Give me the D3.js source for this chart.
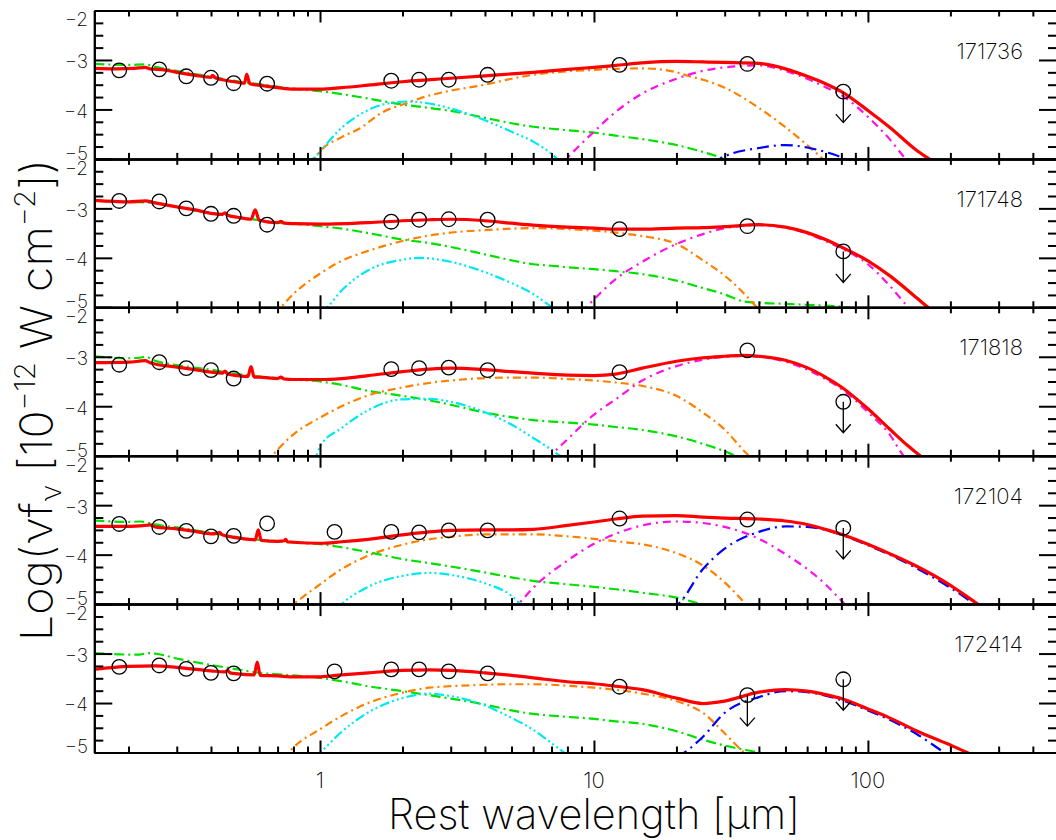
<!DOCTYPE html>
<html><head><meta charset="utf-8">
<script src="https://cdn.jsdelivr.net/npm/d3@7"></script>
<style>
body{margin:0;background:#fff;}
svg{display:block;background:#fff;}
text{font-family:'Inter','Lato','DejaVu Sans',sans-serif;font-weight:200;fill:#000;}
</style></head><body>
<svg id="chart" width="1056" height="840"></svg>
<script>
// ---------------- DATA ----------------
const panelNames = ['171736','171748','171818','172104','172414'];
const bandWavelengths = [0.185,0.259,0.325,0.400,0.484,0.641,1.13,1.82,2.30,2.95,4.09,12.4,36.3,81.3];

const obs_171736 = [-3.21,-3.19,-3.33,-3.36,-3.47,-3.48,null,-3.42,-3.40,-3.40,-3.30,-3.10,-3.08,-3.64];
const obs_171748 = [-2.85,-2.86,-3.00,-3.11,-3.15,-3.33,null,-3.27,-3.23,-3.22,-3.23,-3.42,-3.36,-3.87];
const obs_171818 = [-3.16,-3.11,-3.23,-3.27,-3.44,null,null,-3.25,-3.23,-3.22,-3.27,-3.31,-2.87,-3.91];
const obs_172104 = [-3.38,-3.44,-3.52,-3.63,-3.62,-3.37,-3.54,-3.54,-3.55,-3.51,-3.51,-3.27,-3.29,-3.46];
const obs_172414 = [-3.27,-3.24,-3.31,-3.39,-3.40,null,-3.36,-3.32,-3.32,-3.36,-3.40,-3.67,-3.84,-3.52];

const upper_171736 = [81.3];
const upper_171748 = [81.3];
const upper_171818 = [81.3];
const upper_172104 = [81.3];
const upper_172414 = [36.3, 81.3];

// total model (red)
const total_171736 = [[0.15,-3.17],[0.18,-3.18],[0.21,-3.17],[0.23,-3.15],[0.24,-3.18],[0.27,-3.20],[0.3,-3.25],[0.35,-3.31],[0.4,-3.35],[0.405,-3.31],[0.415,-3.36],[0.45,-3.41],[0.5,-3.45],[0.53,-3.47],[0.54,-3.29],[0.555,-3.48],[0.6,-3.51],[0.7,-3.56],[0.8,-3.59],[1,-3.59],[1.2,-3.56],[1.5,-3.51],[2,-3.44],[3,-3.37],[4,-3.32],[6,-3.25],[8,-3.19],[10,-3.15],[12,-3.11],[15,-3.06],[20,-3.03],[25,-3.04],[30,-3.05],[40,-3.07],[50,-3.18],[60,-3.33],[70,-3.48],[80,-3.64],[100,-4.02],[120,-4.36],[150,-4.82],[170,-5.03],[200,-5.3]];
const total_171748 = [[0.15,-2.84],[0.2,-2.87],[0.23,-2.85],[0.25,-2.89],[0.3,-2.97],[0.35,-3.03],[0.4,-3.10],[0.44,-3.12],[0.45,-3.09],[0.46,-3.14],[0.5,-3.18],[0.56,-3.22],[0.58,-3.03],[0.6,-3.24],[0.7,-3.29],[0.72,-3.26],[0.74,-3.30],[0.8,-3.31],[1,-3.32],[1.5,-3.29],[2,-3.25],[2.5,-3.23],[3,-3.22],[4,-3.25],[5,-3.30],[6,-3.34],[8,-3.38],[10,-3.40],[12,-3.42],[15,-3.42],[20,-3.40],[25,-3.39],[30,-3.37],[40,-3.33],[50,-3.38],[60,-3.49],[70,-3.63],[80,-3.78],[100,-4.06],[120,-4.36],[150,-4.80],[170,-5.05],[190,-5.25]];
const total_171818 = [[0.15,-3.12],[0.2,-3.11],[0.23,-3.08],[0.24,-3.12],[0.3,-3.21],[0.35,-3.26],[0.4,-3.31],[0.44,-3.33],[0.45,-3.29],[0.46,-3.35],[0.5,-3.38],[0.545,-3.40],[0.56,-3.20],[0.575,-3.41],[0.6,-3.41],[0.7,-3.44],[0.72,-3.41],[0.74,-3.45],[0.8,-3.46],[1,-3.46],[1.2,-3.44],[1.5,-3.38],[2,-3.30],[2.5,-3.25],[3,-3.23],[4,-3.26],[5,-3.30],[6,-3.33],[8,-3.37],[10,-3.38],[12,-3.35],[15,-3.23],[20,-3.09],[25,-3.02],[30,-2.99],[35,-2.97],[40,-2.99],[50,-3.07],[60,-3.22],[70,-3.41],[80,-3.61],[100,-4.05],[120,-4.46],[140,-4.80],[155,-5.0],[170,-5.2]];
const total_172104 = [[0.15,-3.43],[0.2,-3.43],[0.23,-3.41],[0.24,-3.40],[0.25,-3.44],[0.3,-3.48],[0.35,-3.53],[0.4,-3.58],[0.42,-3.57],[0.43,-3.55],[0.44,-3.60],[0.5,-3.66],[0.58,-3.70],[0.595,-3.50],[0.61,-3.71],[0.7,-3.73],[0.74,-3.72],[0.75,-3.69],[0.76,-3.74],[0.8,-3.75],[1,-3.77],[1.2,-3.74],[1.5,-3.69],[2,-3.60],[2.5,-3.54],[3,-3.51],[4,-3.50],[5,-3.50],[6,-3.49],[8,-3.41],[10,-3.34],[12,-3.28],[15,-3.22],[20,-3.21],[25,-3.24],[30,-3.26],[40,-3.28],[50,-3.32],[60,-3.39],[70,-3.49],[80,-3.59],[100,-3.79],[120,-3.98],[150,-4.23],[200,-4.62],[250,-4.99],[270,-5.12]];
const total_172414 = [[0.15,-3.32],[0.2,-3.26],[0.25,-3.25],[0.3,-3.28],[0.4,-3.35],[0.45,-3.37],[0.46,-3.34],[0.47,-3.39],[0.5,-3.41],[0.575,-3.43],[0.59,-3.17],[0.605,-3.44],[0.7,-3.45],[0.8,-3.47],[1,-3.47],[1.2,-3.43],[1.5,-3.39],[2,-3.34],[2.5,-3.33],[3,-3.34],[4,-3.39],[5,-3.44],[6,-3.49],[8,-3.57],[10,-3.61],[12,-3.66],[15,-3.73],[20,-3.90],[25,-4.01],[30,-3.96],[40,-3.78],[50,-3.73],[60,-3.76],[70,-3.83],[80,-3.91],[100,-4.12],[120,-4.30],[150,-4.56],[200,-4.85],[230,-5.0],[260,-5.15]];

// stellar component (green)
const stellar_171736 = [[0.15,-3.08],[0.2,-3.10],[0.23,-3.09],[0.25,-3.14],[0.3,-3.22],[0.4,-3.34],[0.5,-3.43],[0.6,-3.49],[0.7,-3.54],[0.8,-3.58],[1,-3.63],[1.2,-3.69],[1.5,-3.78],[2,-3.90],[2.5,-3.97],[3,-4.03],[4,-4.17],[5,-4.28],[6,-4.35],[7,-4.39],[8,-4.42],[10,-4.47],[12,-4.53],[15,-4.60],[20,-4.72],[25,-4.86],[30,-5.0],[35,-5.15]];
const stellar_171748 = [[0.15,-2.84],[0.2,-2.87],[0.25,-2.89],[0.3,-2.97],[0.4,-3.10],[0.5,-3.18],[0.6,-3.24],[0.7,-3.29],[0.8,-3.31],[1,-3.36],[1.2,-3.41],[1.5,-3.50],[2,-3.63],[2.5,-3.70],[3,-3.78],[4,-3.93],[5,-4.05],[6,-4.13],[7,-4.16],[8,-4.19],[10,-4.23],[12,-4.27],[15,-4.33],[20,-4.46],[25,-4.61],[30,-4.74],[35,-4.88],[40,-4.91],[50,-4.93],[60,-4.95],[80,-4.99],[90,-5.03]];
const stellar_171818 = [[0.15,-2.99],[0.2,-3.03],[0.22,-3.02],[0.23,-3.00],[0.25,-3.08],[0.3,-3.17],[0.4,-3.26],[0.5,-3.35],[0.6,-3.40],[0.7,-3.43],[0.8,-3.46],[1,-3.50],[1.2,-3.57],[1.5,-3.69],[2,-3.79],[2.5,-3.88],[3,-3.97],[4,-4.13],[5,-4.22],[6,-4.28],[8,-4.33],[10,-4.37],[12,-4.42],[15,-4.48],[20,-4.61],[25,-4.76],[30,-4.91],[35,-5.08]];
const stellar_172104 = [[0.15,-3.31],[0.2,-3.34],[0.22,-3.33],[0.25,-3.39],[0.3,-3.45],[0.4,-3.56],[0.5,-3.65],[0.6,-3.70],[0.7,-3.73],[0.8,-3.76],[1,-3.79],[1.2,-3.85],[1.5,-3.95],[2,-4.09],[2.5,-4.17],[3,-4.24],[4,-4.36],[5,-4.46],[6,-4.53],[8,-4.60],[10,-4.65],[12,-4.70],[15,-4.77],[20,-4.87],[25,-5.02],[28,-5.12]];
const stellar_172414 = [[0.15,-2.99],[0.2,-3.02],[0.22,-3.02],[0.235,-2.99],[0.25,-3.0],[0.3,-3.10],[0.4,-3.23],[0.5,-3.32],[0.6,-3.39],[0.7,-3.42],[0.8,-3.44],[1,-3.49],[1.2,-3.56],[1.5,-3.66],[2,-3.76],[2.5,-3.84],[3,-3.91],[4,-4.03],[5,-4.15],[6,-4.22],[8,-4.28],[10,-4.32],[12,-4.37],[15,-4.42],[20,-4.57],[25,-4.74],[30,-4.86],[40,-5.0],[45,-5.06]];

// AGN / torus component (orange)
const agn_171736 = [[0.93,-5.1],[1,-4.85],[1.2,-4.56],[1.4,-4.38],[1.7,-4.05],[2,-3.90],[2.5,-3.72],[3,-3.62],[4,-3.50],[5,-3.38],[6,-3.30],[8,-3.23],[10,-3.20],[12,-3.18],[15,-3.17],[18,-3.20],[20,-3.25],[22,-3.32],[25,-3.40],[30,-3.56],[40,-3.97],[50,-4.36],[60,-4.72],[70,-5.05],[75,-5.2]];
const agn_171748 = [[0.68,-5.15],[0.72,-5.0],[0.8,-4.73],[1,-4.32],[1.2,-4.06],[1.5,-3.86],[2,-3.66],[2.5,-3.55],[3,-3.49],[4,-3.44],[5,-3.41],[6,-3.40],[8,-3.42],[10,-3.45],[12,-3.49],[15,-3.56],[20,-3.72],[25,-4.05],[30,-4.36],[35,-4.70],[40,-5.04],[42,-5.15]];
const agn_171818 = [[0.64,-5.15],[0.67,-5.0],[0.7,-4.88],[0.8,-4.57],[1,-4.23],[1.2,-4.0],[1.5,-3.78],[2,-3.62],[2.5,-3.53],[3,-3.48],[4,-3.43],[5,-3.42],[6,-3.42],[8,-3.45],[10,-3.48],[12,-3.52],[15,-3.59],[20,-3.79],[25,-4.13],[30,-4.47],[35,-4.88],[38,-5.08]];
const agn_172104 = [[0.75,-5.12],[0.8,-5.0],[1,-4.60],[1.2,-4.29],[1.5,-4.02],[2,-3.80],[2.5,-3.69],[3,-3.64],[4,-3.59],[5,-3.59],[6,-3.59],[8,-3.63],[10,-3.68],[12,-3.73],[15,-3.79],[20,-3.97],[25,-4.22],[30,-4.56],[35,-4.94],[37,-5.08]];
const agn_172414 = [[0.73,-5.12],[0.77,-5.0],[0.8,-4.90],[1,-4.53],[1.2,-4.26],[1.5,-4.0],[2,-3.79],[2.5,-3.69],[3,-3.66],[4,-3.63],[5,-3.62],[6,-3.62],[8,-3.65],[10,-3.69],[12,-3.73],[15,-3.81],[20,-3.96],[25,-4.20],[30,-4.61],[35,-4.98],[37,-5.08]];

// hot dust (cyan)
const hotDust_171736 = [[0.9,-5.1],[0.95,-4.98],[1.2,-4.37],[1.4,-4.10],[1.7,-3.90],[2.1,-3.84],[2.5,-3.88],[3,-3.98],[4,-4.22],[5,-4.45],[6,-4.65],[7,-4.9],[7.5,-5.05]];
const hotDust_171748 = [[1.0,-5.1],[1.06,-5.0],[1.2,-4.66],[1.5,-4.25],[2,-4.04],[2.3,-4.0],[2.5,-4.01],[3,-4.08],[4,-4.29],[5,-4.51],[6,-4.73],[7,-4.99],[7.5,-5.1]];
const hotDust_171818 = [[0.93,-5.1],[0.97,-5.0],[1,-4.81],[1.2,-4.44],[1.5,-4.08],[2,-3.86],[2.5,-3.85],[3,-3.91],[4,-4.12],[5,-4.37],[6,-4.64],[7,-4.88],[7.5,-5.0],[8,-5.1]];
const hotDust_172104 = [[1.15,-5.1],[1.2,-5.0],[1.5,-4.65],[2,-4.43],[2.5,-4.37],[3,-4.41],[4,-4.58],[5,-4.83],[5.4,-5.0],[5.8,-5.12]];
const hotDust_172414 = [[0.95,-5.1],[1,-5.0],[1.2,-4.58],[1.5,-4.19],[2,-3.90],[2.5,-3.81],[3,-3.86],[4,-4.05],[5,-4.30],[6,-4.54],[7,-4.81],[8,-5.05]];

// warm dust (magenta)
const warmDust_171736 = [[7.5,-5.15],[8,-4.98],[10,-4.45],[12,-4.05],[15,-3.68],[20,-3.38],[25,-3.22],[30,-3.15],[40,-3.11],[50,-3.22],[60,-3.38],[70,-3.55],[80,-3.71],[100,-4.15],[120,-4.6],[140,-5.05],[150,-5.2]];
const warmDust_171748 = [[9,-5.1],[10,-4.84],[12,-4.43],[15,-4.08],[20,-3.72],[25,-3.52],[30,-3.40],[40,-3.34],[50,-3.39],[60,-3.51],[70,-3.66],[80,-3.81],[100,-4.13],[120,-4.56],[140,-4.99],[150,-5.15]];
const warmDust_171818 = [[6.8,-5.1],[7,-5.0],[8,-4.67],[10,-4.17],[12,-3.86],[15,-3.48],[20,-3.19],[25,-3.06],[30,-3.00],[35,-2.98],[40,-3.00],[50,-3.10],[60,-3.26],[70,-3.45],[80,-3.65],[100,-4.12],[120,-4.57],[135,-5.0],[145,-5.15]];
const warmDust_172104 = [[5,-5.15],[5.3,-5.0],[6,-4.67],[8,-4.12],[10,-3.78],[12,-3.58],[15,-3.41],[20,-3.33],[25,-3.36],[30,-3.44],[40,-3.68],[50,-3.99],[60,-4.29],[70,-4.60],[80,-4.93],[85,-5.08]];

// cold dust (blue)
const coldDust_171736 = [[27,-5.1],[30,-4.95],[40,-4.78],[50,-4.72],[60,-4.77],[70,-4.86],[80,-4.97],[85,-5.05]];
const coldDust_172104 = [[19,-5.1],[20.3,-5.0],[25,-4.29],[30,-3.88],[40,-3.54],[50,-3.43],[60,-3.44],[70,-3.50],[80,-3.60],[100,-3.81],[120,-4.00],[150,-4.27],[200,-4.67],[245,-5.0],[260,-5.1]];
const coldDust_172414 = [[20,-5.1],[21.4,-5.0],[25,-4.68],[30,-4.20],[40,-3.88],[50,-3.76],[60,-3.78],[70,-3.85],[80,-3.94],[100,-4.15],[120,-4.34],[150,-4.62],[190,-5.0],[200,-5.08]];

const xTickValues = [1, 10, 100];
const xTickLabels = ['1', '10', '100'];
const yTickValues = [-2, -3, -4, -5];
const yTickLabels = ['\u22122', '\u22123', '\u22124', '\u22125'];

// ---------------- STYLE ----------------
const compStyles = {
  stellar:  {color:'#00e000', width:2.2, dash:'10,4,2,4'},
  agn:      {color:'#ff8000', width:2.2, dash:'8,4,2,4'},
  hotDust:  {color:'#00e8f0', width:2.2, dash:'10,3,2,3,2,3,2,3'},
  warmDust: {color:'#ff10e8', width:2.2, dash:'8,5,2,5'},
  coldDust: {color:'#0000ff', width:2.2, dash:'12,5,2,5'},
  total:    {color:'#ff0000', width:3.2, dash:null}
};

const panels = [
  {name:panelNames[0], obs:obs_171736, upper:upper_171736, comps:{stellar:stellar_171736, agn:agn_171736, hotDust:hotDust_171736, warmDust:warmDust_171736, coldDust:coldDust_171736}, total:total_171736},
  {name:panelNames[1], obs:obs_171748, upper:upper_171748, comps:{stellar:stellar_171748, agn:agn_171748, hotDust:hotDust_171748, warmDust:warmDust_171748}, total:total_171748},
  {name:panelNames[2], obs:obs_171818, upper:upper_171818, comps:{stellar:stellar_171818, agn:agn_171818, hotDust:hotDust_171818, warmDust:warmDust_171818}, total:total_171818},
  {name:panelNames[3], obs:obs_172104, upper:upper_172104, comps:{stellar:stellar_172104, agn:agn_172104, hotDust:hotDust_172104, warmDust:warmDust_172104, coldDust:coldDust_172104}, total:total_172104},
  {name:panelNames[4], obs:obs_172414, upper:upper_172414, comps:{stellar:stellar_172414, agn:agn_172414, hotDust:hotDust_172414, coldDust:coldDust_172414}, total:total_172414}
];

// ---------------- DRAW ----------------
const svg = d3.select('#chart');
const left = 94.3, right = 1057;
const x = d3.scaleLog().domain([0.15, 490]).range([left, right]);
const top0 = 10.5, panelH = 148.4;

const xMinor = [];
[-1,0,1,2].forEach(d => { for (let k=2;k<=9;k++){ const v=k*Math.pow(10,d); if (v>=0.15 && v<=490) xMinor.push(v);} });
const yMinor = d3.range(-5, -1.99, 0.25).filter(v => Math.abs(v - Math.round(v)) > 1e-6);

function styleAxis(g){
  g.selectAll('path.domain').attr('stroke','#000').attr('stroke-width',2);
  g.selectAll('.tick line').attr('stroke','#000').attr('stroke-width',2);
  g.selectAll('.tick text').remove();
}

panels.forEach((p, i) => {
  const top = top0 + i*panelH, bot = top + panelH;
  const y = d3.scaleLinear().domain([-5, -2]).range([bot, top]);
  const g = svg.append('g').attr('class','panel');

  const clipId = 'clip' + i;
  svg.append('defs').append('clipPath').attr('id', clipId)
    .append('rect').attr('x', left).attr('y', top).attr('width', right-left).attr('height', panelH);
  const plot = g.append('g').attr('clip-path', `url(#${clipId})`);

  const line = d3.line().x(d => x(d[0])).y(d => y(d[1])).curve(d3.curveMonotoneX);

  ['stellar','agn','hotDust','warmDust','coldDust'].forEach(k => {
    if (!p.comps[k]) return;
    const s = compStyles[k];
    plot.append('path').datum(p.comps[k]).attr('d', line)
      .attr('fill','none').attr('stroke', s.color).attr('stroke-width', s.width)
      .attr('stroke-dasharray', s.dash).attr('stroke-linejoin','round');
  });
  plot.append('path').datum(p.total).attr('d', line)
    .attr('fill','none').attr('stroke', compStyles.total.color).attr('stroke-width', compStyles.total.width)
    .attr('stroke-linejoin','round');

  // observations
  const pts = bandWavelengths.map((w, j) => ({w, v: p.obs[j], ul: p.upper.includes(w)})).filter(d => d.v !== null);
  g.selectAll('circle.obs').data(pts).enter().append('circle')
    .attr('class','obs').attr('cx', d => x(d.w)).attr('cy', d => y(d.v)).attr('r', 7.3)
    .attr('fill','none').attr('stroke','#000').attr('stroke-width',1.3);
  g.selectAll('path.ul').data(pts.filter(d => d.ul)).enter().append('path')
    .attr('class','ul')
    .attr('d', d => { const cx=x(d.w), cy=y(d.v); return `M${cx},${cy}L${cx},${cy+31}M${cx-7.5},${cy+22.5}L${cx},${cy+31}L${cx+7.5},${cy+22.5}`; })
    .attr('fill','none').attr('stroke','#000').attr('stroke-width',1.3);

  // axes (inward ticks)
  const ax = [];
  ax.push(g.append('g').attr('transform',`translate(0,${bot})`).call(d3.axisBottom(x).tickValues(xTickValues).tickSizeInner(-12).tickSizeOuter(0).tickFormat('')));
  ax.push(g.append('g').attr('transform',`translate(0,${bot})`).call(d3.axisBottom(x).tickValues(xMinor).tickSizeInner(-6).tickSizeOuter(0).tickFormat('')));
  ax.push(g.append('g').attr('transform',`translate(0,${top})`).call(d3.axisTop(x).tickValues(xTickValues).tickSizeInner(-12).tickSizeOuter(0).tickFormat('')));
  ax.push(g.append('g').attr('transform',`translate(0,${top})`).call(d3.axisTop(x).tickValues(xMinor).tickSizeInner(-6).tickSizeOuter(0).tickFormat('')));
  ax.push(g.append('g').attr('transform',`translate(${left},0)`).call(d3.axisLeft(y).tickValues(yTickValues).tickSizeInner(-18).tickSizeOuter(0).tickFormat('')));
  ax.push(g.append('g').attr('transform',`translate(${left},0)`).call(d3.axisLeft(y).tickValues(yMinor).tickSizeInner(-9).tickSizeOuter(0).tickFormat('')));
  ax.push(g.append('g').attr('transform',`translate(${right},0)`).call(d3.axisRight(y).tickValues(yTickValues).tickSizeInner(-18).tickSizeOuter(0).tickFormat('')));
  ax.push(g.append('g').attr('transform',`translate(${right},0)`).call(d3.axisRight(y).tickValues(yMinor).tickSizeInner(-9).tickSizeOuter(0).tickFormat('')));
  ax.forEach(styleAxis);

  // y tick labels
  yTickValues.forEach((v, j) => {
    const off = v === -2 ? 9 : (v === -5 ? -6 : 1.5);
    g.append('text').attr('x', 88).attr('y', y(v) + off).attr('dy','0.36em')
      .attr('text-anchor','end').attr('font-size',19).text(yTickLabels[j]);
  });

  // panel name
  g.append('text').attr('x', 1023).attr('y', top + 48).attr('text-anchor','end')
    .attr('font-size', 22).text(p.name);

  if (i === panels.length - 1) {
    xTickValues.forEach((v, j) => {
      g.append('text').attr('x', x(v)).attr('y', 788).attr('text-anchor','middle')
        .attr('font-size', 22).text(xTickLabels[j]);
    });
  }
});

// axis titles
svg.append('text').attr('x', 594).attr('y', 829).attr('text-anchor','middle')
  .attr('font-size', 42).attr('textLength', 412).attr('lengthAdjust','spacingAndGlyphs')
  .text('Rest wavelength [\u03BCm]');

const yt = svg.append('text').attr('transform','translate(52,400) rotate(-90)')
  .attr('text-anchor','middle').attr('font-size', 44)
  .attr('textLength', 482).attr('lengthAdjust','spacingAndGlyphs');
yt.append('tspan').text('Log(\u03BDf');
yt.append('tspan').attr('font-size', 28).attr('dy', 9).text('\u03BD');
yt.append('tspan').attr('dy', -9).text(' [10');
yt.append('tspan').attr('font-size', 28).attr('dy', -17).text('\u221212');
yt.append('tspan').attr('dy', 17).text(' W cm');
yt.append('tspan').attr('font-size', 28).attr('dy', -17).text('\u22122');
yt.append('tspan').attr('dy', 17).text('])');
</script>
</body></html>
